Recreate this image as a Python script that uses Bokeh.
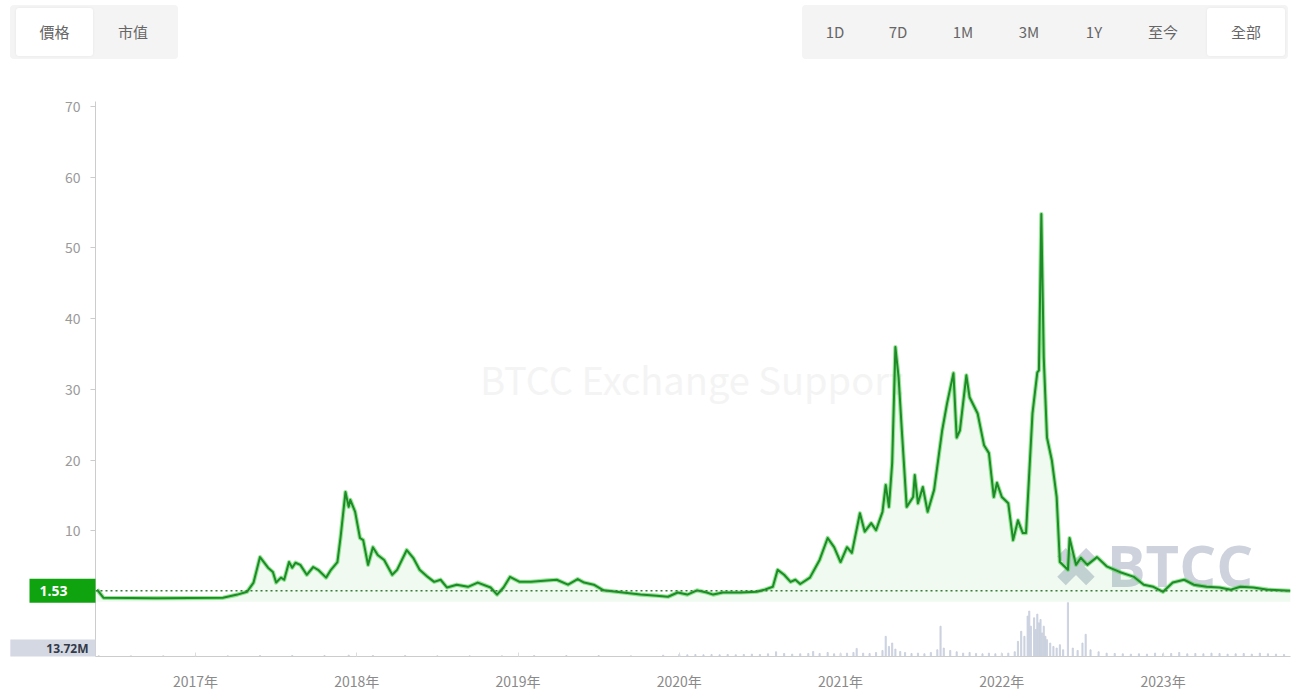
from bokeh.plotting import figure
from bokeh.models import (Range1d, FixedTicker, CustomJSTickFormatter, Span, Label, Div)
from bokeh.layouts import column
from bokeh.embed import file_html
from bokeh.resources import INLINE

FONT = "Noto Sans CJK TC"

# ---------------- data ----------------
left_buttons = ["價格", "市值"]
right_buttons = ["1D", "7D", "1M", "3M", "1Y", "至今", "全部"]
year_ticks = [2017, 2018, 2019, 2020, 2021, 2022, 2023]
price_ticks = [10, 20, 30, 40, 50, 60, 70]
current_price = 1.53
current_label = "1.53"
volume_label = "13.72M"
watermark_text = "BTCC Exchange Support"
logo_text = "BTCC"

price_t = [
    2016.39, 2016.43, 2016.76, 2017.17, 2017.26, 2017.32, 2017.36, 2017.40, 2017.45, 2017.48,
    2017.50, 2017.53, 2017.55, 2017.58, 2017.60, 2017.62, 2017.65, 2017.69, 2017.73, 2017.76,
    2017.81, 2017.84, 2017.88, 2017.90, 2017.93, 2017.95, 2017.96, 2017.99, 2018.02, 2018.04,
    2018.07, 2018.10, 2018.13, 2018.17, 2018.22, 2018.25, 2018.31, 2018.35, 2018.39, 2018.44,
    2018.48, 2018.52, 2018.56, 2018.62, 2018.69, 2018.75, 2018.83, 2018.87, 2018.91, 2018.95,
    2019.01, 2019.08, 2019.18, 2019.24, 2019.31, 2019.37, 2019.41, 2019.47, 2019.53, 2019.65,
    2019.76, 2019.86, 2019.93, 2019.99, 2020.05, 2020.11, 2020.17, 2020.21, 2020.27, 2020.38,
    2020.48, 2020.53, 2020.58, 2020.61, 2020.65, 2020.69, 2020.72, 2020.75, 2020.81, 2020.87,
    2020.92, 2020.96, 2021.00, 2021.04, 2021.07, 2021.12, 2021.15, 2021.19, 2021.22, 2021.26,
    2021.28, 2021.30, 2021.32, 2021.34, 2021.36, 2021.38, 2021.41, 2021.45, 2021.46, 2021.48,
    2021.51, 2021.54, 2021.58, 2021.63, 2021.66, 2021.70, 2021.72, 2021.74, 2021.78, 2021.80,
    2021.85, 2021.89, 2021.92, 2021.95, 2021.97, 2022.00, 2022.04, 2022.07, 2022.10, 2022.13,
    2022.15, 2022.19, 2022.22, 2022.23, 2022.245, 2022.26, 2022.28, 2022.31, 2022.34, 2022.36,
    2022.41, 2022.42, 2022.46, 2022.49, 2022.53, 2022.59, 2022.65, 2022.73, 2022.82, 2022.88,
    2022.94, 2023.00, 2023.06, 2023.13, 2023.19, 2023.27, 2023.35, 2023.42, 2023.48, 2023.56,
    2023.65, 2023.79,
]
price_v = [
    1.7, 0.55, 0.5, 0.55, 1.0, 1.4, 2.7, 6.3, 4.8, 4.2,
    2.7, 3.4, 3.1, 5.6, 4.8, 5.5, 5.2, 3.8, 4.9, 4.5,
    3.4, 4.5, 5.6, 9.2, 15.5, 13.4, 14.4, 12.7, 9.0, 8.7,
    5.2, 7.7, 6.6, 5.9, 3.8, 4.5, 7.3, 6.2, 4.5, 3.5,
    2.8, 3.1, 2.0, 2.4, 2.1, 2.7, 2.0, 1.0, 2.0, 3.5,
    2.8, 2.8, 3.0, 3.1, 2.4, 3.2, 2.7, 2.4, 1.6, 1.3,
    1.0, 0.85, 0.7, 1.3, 1.0, 1.6, 1.3, 1.0, 1.3, 1.3,
    1.4, 1.7, 2.1, 4.5, 3.8, 2.8, 3.1, 2.5, 3.4, 5.9,
    9.0, 7.7, 5.6, 7.7, 6.9, 12.5, 9.9, 11.1, 10.1, 12.7,
    16.5, 13.4, 19.6, 36.0, 31.7, 24.2, 13.4, 14.8, 17.9, 13.9,
    16.2, 12.7, 15.8, 24.2, 28.0, 32.3, 23.2, 24.2, 32.0, 28.9,
    26.6, 22.1, 21.0, 14.8, 16.8, 14.8, 13.9, 8.7, 11.5, 9.7,
    9.7, 26.6, 32.4, 32.7, 54.8, 34.5, 23.2, 20.0, 14.8, 5.6,
    4.5, 9.0, 5.2, 6.2, 5.2, 6.3, 5.0, 4.2, 3.5, 2.4,
    2.1, 1.4, 2.7, 3.1, 2.4, 2.1, 2.0, 1.7, 2.1, 2.0,
    1.7, 1.53,
]

vol_t = [
    2016.40, 2016.60, 2016.80, 2017.00, 2017.20, 2017.40, 2017.60, 2017.80, 2017.95, 2018.10,
    2018.30, 2018.50, 2018.70, 2018.90, 2019.10, 2019.30, 2019.50, 2019.70, 2019.90, 2020.00,
    2020.05, 2020.10, 2020.15, 2020.20, 2020.25, 2020.30, 2020.35, 2020.40, 2020.45, 2020.50,
    2020.55, 2020.60, 2020.65, 2020.70, 2020.75, 2020.80, 2020.83, 2020.87, 2020.92, 2020.96,
    2021.00, 2021.04, 2021.08, 2021.10, 2021.14, 2021.18, 2021.22, 2021.26, 2021.28, 2021.30,
    2021.32, 2021.34, 2021.37, 2021.40, 2021.44, 2021.48, 2021.52, 2021.56, 2021.60, 2021.62,
    2021.64, 2021.68, 2021.72, 2021.76, 2021.80, 2021.84, 2021.88, 2021.92, 2021.96, 2022.00,
    2022.04, 2022.08, 2022.10, 2022.12, 2022.14, 2022.16, 2022.17, 2022.18, 2022.20, 2022.21,
    2022.22, 2022.23, 2022.24, 2022.25, 2022.26, 2022.27, 2022.28, 2022.30, 2022.32, 2022.34,
    2022.36, 2022.38, 2022.41, 2022.44, 2022.47, 2022.50, 2022.52, 2022.55, 2022.60, 2022.65,
    2022.70, 2022.75, 2022.80, 2022.85, 2022.90, 2022.95, 2023.00, 2023.05, 2023.10, 2023.15,
    2023.20, 2023.25, 2023.30, 2023.35, 2023.40, 2023.45, 2023.50, 2023.55, 2023.60, 2023.65,
    2023.70, 2023.75,
]
vol_v = [
    2, 2, 2, 2, 2, 3, 3, 3, 4, 3,
    3, 2, 2, 2, 3, 3, 3, 2, 4, 6,
    5, 6, 5, 6, 5, 6, 5, 6, 7, 6,
    8, 14, 9, 7, 8, 9, 15, 9, 12, 8,
    9, 10, 12, 24, 10, 9, 12, 18, 60, 30,
    40, 22, 15, 12, 9, 10, 8, 12, 20, 90,
    25, 18, 14, 10, 12, 9, 8, 10, 8, 9,
    10, 14, 45, 75, 60, 120, 135, 90, 115, 80,
    126, 100, 110, 70, 90, 60, 50, 40, 30, 25,
    35, 20, 160, 25, 18, 40, 66, 20, 14, 10,
    9, 8, 7, 8, 7, 10, 8, 9, 12, 8,
    9, 8, 10, 9, 7, 8, 9, 7, 10, 8,
    7, 6,
]
assert len(price_t) == len(price_v)
assert len(vol_t) == len(vol_v)

# ---------------- header buttons (HTML) ----------------
def button(label, left, width, selected):
    bg = "#ffffff" if selected else "transparent"
    shadow = "box-shadow:0 0 3px rgba(0,0,0,0.06);" if selected else ""
    return (f'<div style="position:absolute;left:{left}px;top:3px;width:{width}px;height:48px;'
            f'line-height:48px;text-align:center;background:{bg};border-radius:3px;{shadow}'
            f'color:#666;font-size:15px;font-family:\'{FONT}\';">{label}</div>')

left_layout = [(6, 77, True), (83, 80, False)]
right_centers = [33, 96, 161, 227, 292, 361, 444]
html = '<div style="position:relative;width:1293px;height:60px;">'
html += '<div style="position:absolute;left:10px;top:5px;width:168px;height:54px;background:#f4f4f4;border-radius:4px;">'
for lab, (lft, w, sel) in zip(left_buttons, left_layout):
    html += button(lab, lft, w, sel)
html += '</div>'
html += '<div style="position:absolute;left:802px;top:5px;width:486px;height:54px;background:#f4f4f4;border-radius:4px;">'
for i, (lab, c) in enumerate(zip(right_buttons, right_centers)):
    sel = (i == len(right_buttons) - 1)
    w = 78 if sel else 56
    html += button(lab, c - w // 2, w, sel)
html += '</div></div>'

HEADER_H = 60
header = Div(text=html, width=1293, height=HEADER_H, margin=0)

# ---------------- chart ----------------
x_start, x_end = 2016.38, 2023.79
p = figure(width=1293, height=693 - HEADER_H, output_backend="svg", toolbar_location=None,
           x_range=Range1d(x_start, x_end), y_range=Range1d(-7.75, 70.7),
           min_border_left=95, min_border_right=3, min_border_top=0, min_border_bottom=36,
           background_fill_color="white", border_fill_color="white")
p.outline_line_color = None
p.grid.grid_line_color = None
p.extra_y_ranges = {"vol": Range1d(0, 1650)}

# watermark + logo (behind the line)
p.add_layout(Label(x=2018.765, y=31.5, text=watermark_text, text_align="left", text_baseline="middle",
                   text_font=FONT, text_font_size="38px", text_color="#f4f4f4", level="underlay"))
p.add_layout(Label(x=2022.46, y=4.9, text="✖", text_align="center", text_baseline="middle",
                   text_font="DejaVu Sans", text_font_size="56px", text_color="#cdd2dd", level="underlay"))
p.add_layout(Label(x=2022.65, y=5.3, text=logo_text, text_align="left", text_baseline="middle",
                   text_font="Open Sans", text_font_style="bold", text_font_size="58px",
                   text_color="#cdd2dd", level="underlay"))

# volume bars
p.vbar(x=vol_t, top=vol_v, width=0.007, y_range_name="vol", color="#c8cfdd", alpha=0.85)

# price area + line
p.varea(x=price_t, y1=0, y2=price_v, fill_color="#3dbb47", fill_alpha=0.08)
p.line(price_t, price_v, line_color="#3fd23f", line_width=4.2, line_alpha=0.55, line_join="round")
p.line(price_t, price_v, line_color="#1f8a28", line_width=2.0, line_join="round")

# current price dotted line
p.add_layout(Span(location=current_price, dimension="width", line_color="#3a7d3a",
                  line_dash="2 3", line_width=1.5))

# axes
p.yaxis.ticker = FixedTicker(ticks=price_ticks)
p.yaxis.axis_line_color = "#cccccc"
p.yaxis.major_tick_line_color = "#cccccc"
p.yaxis.major_tick_out = 5
p.yaxis.major_tick_in = 0
p.yaxis.minor_tick_line_color = None
p.yaxis.major_label_text_color = "#9a9a9a"
p.yaxis.major_label_text_font = FONT
p.yaxis.major_label_text_font_size = "14px"
p.yaxis.major_label_standoff = 10

p.xaxis.ticker = FixedTicker(ticks=year_ticks)
p.xaxis.formatter = CustomJSTickFormatter(code="return tick.toFixed(0) + '年';")
p.xaxis.axis_line_color = "#cccccc"
p.xaxis.major_tick_line_color = "#dddddd"
p.xaxis.major_tick_out = 0
p.xaxis.major_tick_in = 4
p.xaxis.minor_tick_line_color = None
p.xaxis.major_label_text_color = "#8a8a8a"
p.xaxis.major_label_text_font = FONT
p.xaxis.major_label_text_font_size = "14px"
p.xaxis.major_label_standoff = 14

# current price tag and volume tag: placed in a side panel so they are not clipped to the frame;
# their position still follows the data scales.  padding = (left, right, top, bottom)
p.add_layout(Label(x=x_start, y=current_price, text=current_label,
                   text_align="right", text_baseline="middle", text_font="Open Sans",
                   text_font_style="bold", text_font_size="14px", text_color="white",
                   background_fill_color="#10a310", background_fill_alpha=1.0,
                   padding=(10, 28, 7, 7)), "above")
p.add_layout(Label(x=x_start, y=-6.55, text=volume_label,
                   text_align="right", text_baseline="middle", text_font="Open Sans",
                   text_font_style="bold", text_font_size="12px", text_color="#333a48",
                   background_fill_color="#d3d8e3", background_fill_alpha=1.0,
                   padding=(36, 7, 0, 0)), "above")

layout = column(header, p, spacing=0)
open("out.html", "w").write(file_html(layout, INLINE))
